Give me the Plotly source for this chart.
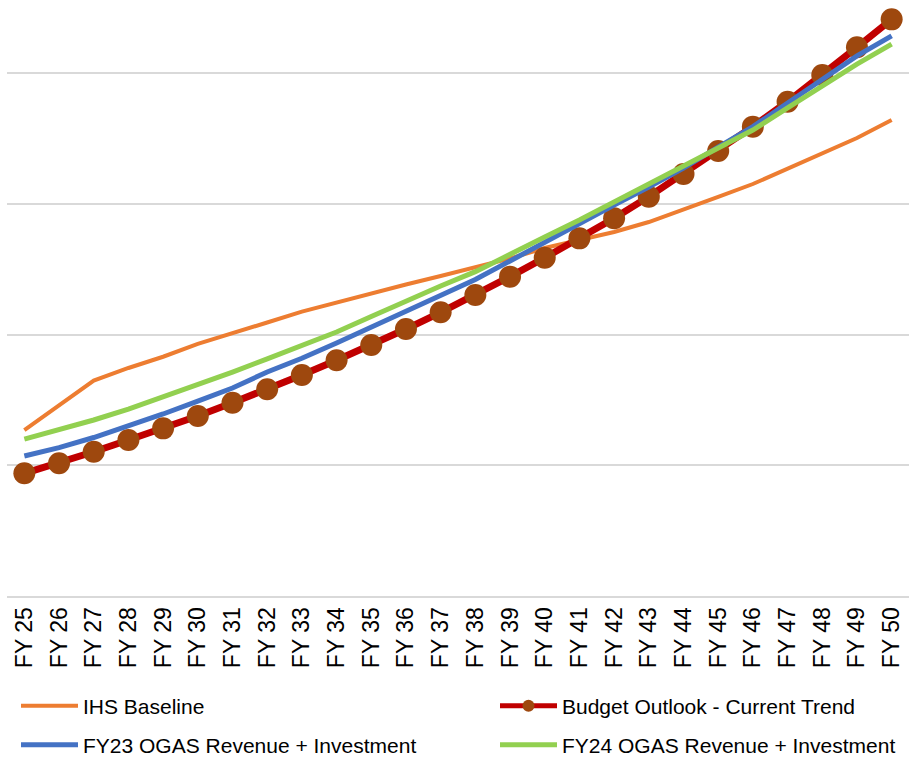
import plotly.graph_objects as go

# Fiscal years on the category axis
years = [f"FY {n}" for n in range(25, 51)]

# Projection series (index units; one gridline step = 1.0)
ihs_baseline = [1.270, 1.459, 1.648, 1.745, 1.831, 1.929, 2.015, 2.093, 2.176, 2.246,
                2.319, 2.384, 2.449, 2.518, 2.583, 2.663, 2.724, 2.786, 2.862, 2.954,
                3.054, 3.153, 3.268, 3.383, 3.505, 3.643]
budget_outlook = [0.939, 1.016, 1.104, 1.194, 1.283, 1.378, 1.479, 1.582, 1.691, 1.804,
                  1.921, 2.043, 2.171, 2.304, 2.444, 2.589, 2.737, 2.891, 3.056, 3.230,
                  3.406, 3.592, 3.783, 3.987, 4.199, 4.413]
fy23_ogas = [1.071, 1.136, 1.213, 1.301, 1.393, 1.492, 1.592, 1.714, 1.819, 1.936,
             2.059, 2.181, 2.304, 2.422, 2.564, 2.709, 2.855, 2.992, 3.130, 3.275,
             3.436, 3.592, 3.773, 3.949, 4.133, 4.286]
fy24_ogas = [1.201, 1.270, 1.347, 1.431, 1.523, 1.622, 1.714, 1.814, 1.913, 2.020,
             2.139, 2.258, 2.372, 2.482, 2.610, 2.747, 2.877, 3.015, 3.153, 3.291,
             3.436, 3.566, 3.735, 3.903, 4.071, 4.224]

FONT = "Liberation Sans, Arial, sans-serif"
W, H = 913, 758

fig = go.Figure()
fig.add_trace(go.Scatter(
    x=years, y=ihs_baseline, name="IHS Baseline", mode="lines",
    line=dict(color="#ED7D31", width=4), legend="legend"))
fig.add_trace(go.Scatter(
    x=years, y=budget_outlook, name="Budget Outlook - Current Trend", mode="lines+markers",
    line=dict(color="#C00000", width=7),
    marker=dict(color="#9E480E", size=22, line=dict(width=0)), legend="legend2"))
fig.add_trace(go.Scatter(
    x=years, y=fy23_ogas, name="FY23 OGAS Revenue + Investment", mode="lines",
    line=dict(color="#4472C4", width=5), legend="legend3"))
fig.add_trace(go.Scatter(
    x=years, y=fy24_ogas, name="FY24 OGAS Revenue + Investment", mode="lines",
    line=dict(color="#92D050", width=5), legend="legend4"))

# Legend boxes placed in container coordinates so they don't push the plot margins
leg_common = dict(orientation="h", font=dict(family=FONT, size=21, color="#000000"),
                  bgcolor="rgba(0,0,0,0)", itemwidth=57, yanchor="middle", xanchor="left",
                  xref="container", yref="container")
row1 = 1 - 706 / H
row2 = 1 - 745 / H
col1 = 16 / W
col2 = 495 / W

fig.update_layout(
    width=W, height=H,
    margin=dict(l=7, r=4, t=0, b=162, autoexpand=False),
    paper_bgcolor="white", plot_bgcolor="white",
    font=dict(family=FONT, size=21, color="#000000"),
    showlegend=True,
    legend=dict(x=col1, y=row1, **leg_common),
    legend2=dict(x=col2, y=row1, itemsizing="constant", **leg_common),
    legend3=dict(x=col1, y=row2, **leg_common),
    legend4=dict(x=col2, y=row2, **leg_common),
    xaxis=dict(type="category", categoryorder="array", categoryarray=years,
               tickangle=-90, showgrid=False, showline=True, linecolor="#D9D9D9",
               linewidth=2, ticks="", tickfont=dict(family=FONT, size=23, color="#000000"),
               range=[-0.5, 25.5], automargin=False),
    yaxis=dict(range=[0, 596 / 130.67], dtick=1, showticklabels=False,
               showgrid=True, gridcolor="#D9D9D9", gridwidth=2, zeroline=False,
               ticks="", automargin=False),
)

fig.write_html("out.html")
